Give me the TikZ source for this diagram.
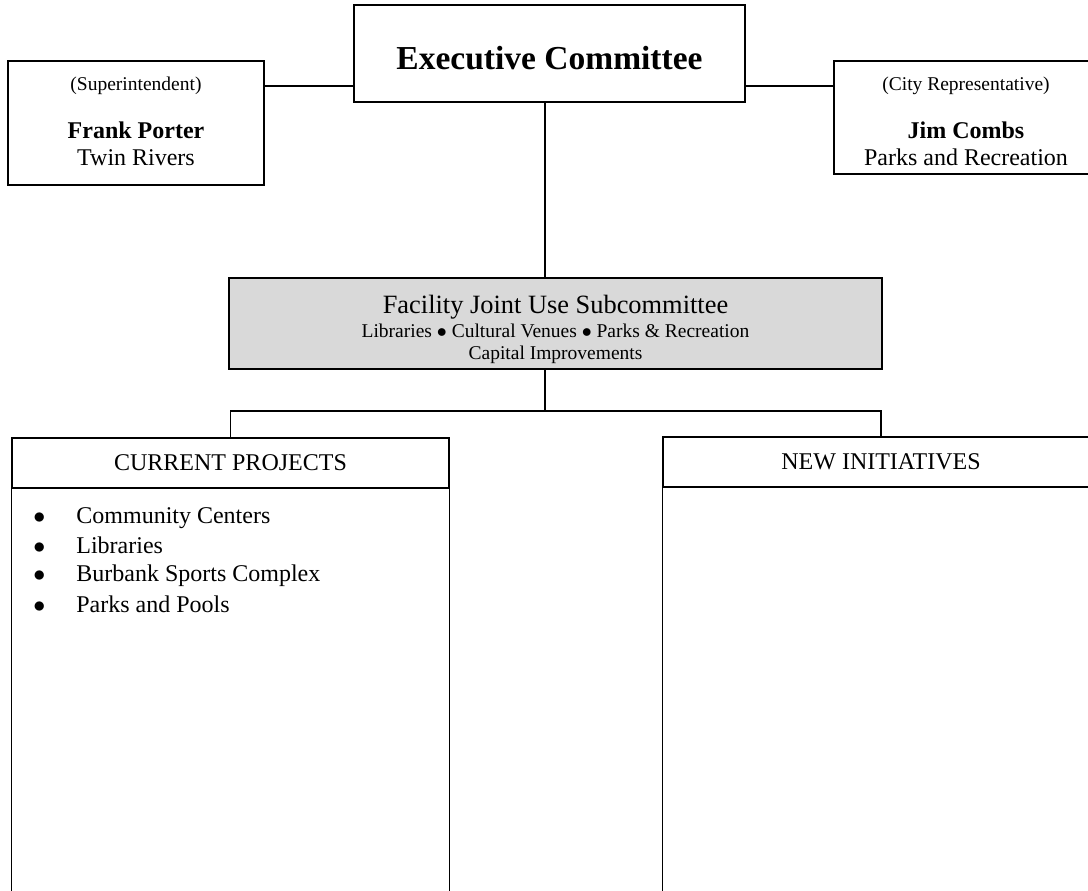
\documentclass[tikz,border=0pt]{standalone}
\usepackage{fontspec}
\setmainfont{Liberation Serif}
\definecolor{subgray}{RGB}{217,217,217}
\begin{document}
\begin{tikzpicture}[x=0.5pt,y=-0.5pt,
  box/.style={draw, line width=0.7pt, inner sep=0pt, align=center},
  boxtext/.style={align=center, inner sep=0pt},
  conn/.style={line width=0.7pt},
  item/.style={anchor=base west, inner sep=0pt, font=\fontsize{12}{14}\selectfont}]
\useasboundingbox (0,0) rectangle (1088,890);
\fill[white] (0,0) rectangle (1088,890);

% top row
\node[box, minimum width=195.5pt, minimum height=48.5pt,
      label={[boxtext, yshift=-2.3pt, font=\fontsize{16.75}{20}\selectfont\bfseries]center:Executive Committee}] (exec) at (549.5,53.5) {};
\node[box, minimum width=128pt, minimum height=62pt,
      label={[boxtext, yshift=0.8pt, font=\fontsize{12}{13.8}\selectfont]center:{{\fontsize{9.75}{11}\selectfont (Superintendent)}\\[10pt]\textbf{Frank Porter}\\Twin Rivers}}] (left) at (136,123) {};
\node[box, minimum width=132pt, minimum height=56.5pt,
      label={[boxtext, yshift=-2pt, font=\fontsize{12}{13.8}\selectfont]center:{{\fontsize{9.75}{11}\selectfont (City Representative)}\\[10pt]\textbf{Jim Combs}\\Parks and Recreation}}] (right) at (966,117.5) {};

% subcommittee
\node[box, fill=subgray, minimum width=326.5pt, minimum height=45.5pt,
      label={[boxtext, yshift=-2.8pt, font=\fontsize{9.75}{11}\selectfont]center:{{\fontsize{13.2}{14}\selectfont Facility Joint Use Subcommittee}\\[1pt]
   Libraries $\bullet$ Cultural Venues $\bullet$ Parks \& Recreation\\
   Capital Improvements}}] (sub) at (555.5,323.5) {};

% lower boxes
\node[box, minimum width=218.5pt, minimum height=25pt, font=\fontsize{12}{14}\selectfont] (cur) at (230.5,463) {CURRENT PROJECTS};
\draw[conn] (cur.south west) -- ++(0,460);
\draw[conn] (cur.south east) -- ++(0,460);
\node[box, minimum width=218pt, minimum height=25pt, font=\fontsize{12}{14}\selectfont] (new) at (881,462) {NEW INITIATIVES};
\draw[conn] (new.south west) -- ++(0,460);
\draw[conn] (new.south east) -- ++(0,460);

% list
\node[item] (i1) at (33,523) {\makebox[21.5pt][l]{$\bullet$}Community Centers};
\node[item] (i2) at (33,553) {\makebox[21.5pt][l]{$\bullet$}Libraries};
\node[item] (i3) at (33,581) {\makebox[21.5pt][l]{$\bullet$}Burbank Sports Complex};
\node[item] (i4) at (33,612) {\makebox[21.5pt][l]{$\bullet$}Parks and Pools};

% connectors
\coordinate (hl) at (0,86);
\coordinate (bus) at (545,411);
\draw[conn] (left.east |- hl) -- (exec.west |- hl);
\draw[conn] (exec.east |- hl) -- (right.west |- hl);
\draw[conn] (exec.south -| bus) -- (sub.north -| bus);
\draw[conn] (sub.south -| bus) -- (bus);
\draw[conn] (cur.north) |- (bus) -| (new.north);
\end{tikzpicture}
\end{document}
